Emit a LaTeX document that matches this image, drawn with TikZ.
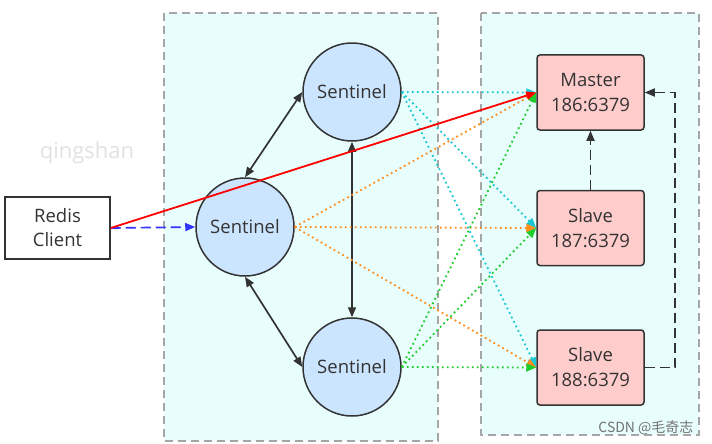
\documentclass[tikz,border=0pt]{standalone}
\usepackage{fontspec}
\setmainfont{Open Sans}
\newfontfamily\cjk{Noto Sans CJK SC}
\usetikzlibrary{arrows.meta}
\definecolor{contfill}{HTML}{E8FEFD}
\definecolor{contline}{HTML}{A6A6A6}
\definecolor{dk}{HTML}{333333}
\definecolor{sentfill}{HTML}{CCE5FF}
\definecolor{redisfill}{HTML}{FFCCCC}
\definecolor{cyanline}{HTML}{1BC7D2}
\definecolor{orangeline}{HTML}{FF8C1A}
\definecolor{greenline}{HTML}{1FCC2E}
\definecolor{blueline}{HTML}{3333FF}
\definecolor{wm}{HTML}{E2E2E2}
\tikzset{
  container/.style={draw=contline, fill=contfill, line width=1.5pt, dash pattern=on 8pt off 5pt},
  sentinel/.style={circle, draw=dk, fill=sentfill, line width=1.5pt, minimum size=98pt, inner sep=0pt, font=\fontsize{18.5}{22}\selectfont, text=dk},
  redisbox/.style={rectangle, rounded corners=3pt, draw=dk, fill=redisfill, line width=1.5pt, minimum width=107pt, minimum height=75pt, align=center, font=\fontsize{18.5}{25}\selectfont, text=dk},
  clientbox/.style={rectangle, draw=dk, fill=white, line width=1.5pt, minimum width=105pt, minimum height=62pt, align=center, font=\fontsize{18.5}{24}\selectfont, text=dk},
  tip/.style={-{Triangle[length=10pt,width=8pt]}},
  monitor/.style={tip, line width=1.8pt, dash pattern=on 1.8pt off 3.2pt},
  link/.style={{Triangle[length=10pt,width=8pt]}-{Triangle[length=10pt,width=8pt]}, draw=dk, line width=1.7pt},
  repl/.style={tip, draw=dk, line width=1.7pt, dash pattern=on 10pt off 5pt}
}
\begin{document}
\begin{tikzpicture}[x=1pt,y=-1pt]
\useasboundingbox (0,0) rectangle (712,444);
\fill[white] (0,0) rectangle (712,444);
% containers
\draw[container] (164,13) rectangle (438,441);
\draw[container] (481,13) rectangle (699,435);
% watermark
\node[font=\fontsize{22}{26}\selectfont, text=wm] (wmq) at (87,153) {qingshan};
% nodes
\node[clientbox] (client) at (57.5,228) {Redis\\Client};
\node[sentinel] (ls) at (245,227) {Sentinel};
\node[sentinel] (ts) at (352,92) {Sentinel};
\node[sentinel] (bs) at (352,367) {Sentinel};
\node[redisbox] (master) at (590.5,92.5) {Master\\186:6379};
\node[redisbox] (s1) at (590.5,228) {Slave\\187:6379};
\node[redisbox] (s2) at (590.5,367.5) {Slave\\188:6379};
\coordinate (c1) at (675,367.5);
\coordinate (c2) at (675,92.5);
% sentinel links
\draw[link] (ls.north) -- (ts.west);
\draw[link] (ls.south) -- (bs.west);
\draw[link] (ts.south) -- (bs.north);
% monitoring
\draw[monitor, color=cyanline] (ts.east) -- (master.west);
\draw[monitor, color=cyanline] (ts.east) -- (s1.west);
\draw[monitor, color=cyanline] (ts.east) -- (s2.west);
\draw[monitor, color=orangeline] (ls.east) -- (master.west);
\draw[monitor, color=orangeline] (ls.east) -- (s1.west);
\draw[monitor, color=orangeline] (ls.east) -- (s2.west);
\draw[monitor, color=greenline] (bs.east) -- (master.west);
\draw[monitor, color=greenline] (bs.east) -- (s1.west);
\draw[monitor, color=greenline] (bs.east) -- (s2.west);
% client
\draw[tip, color=blueline, line width=1.7pt, dash pattern=on 10pt off 5pt] (client.east) -- (ls.west);
\draw[tip, color=red, line width=1.8pt] (client.east) -- (master.west);
% replication
\draw[repl] (s1.north) -- (master.south);
\draw[repl] (s2.east) -- (c1) -- (c2) -- (master.east);
% csdn
\node[font=\cjk\fontsize{14}{16}\selectfont, text=black!55, anchor=east] (csdn) at (697,428) {CSDN @毛奇志};
\end{tikzpicture}
\end{document}
